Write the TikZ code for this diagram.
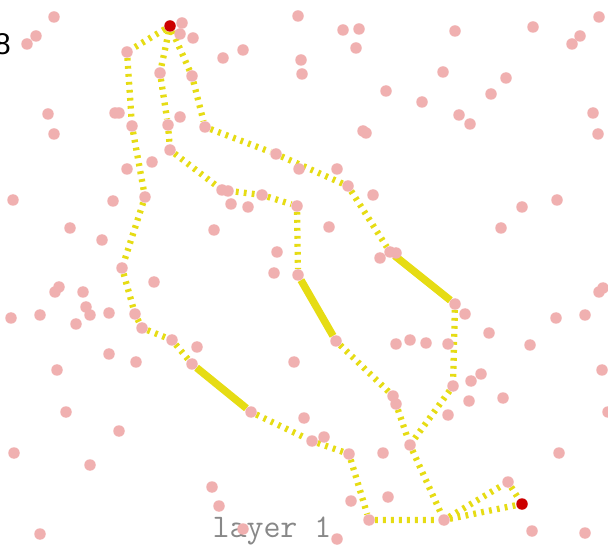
\documentclass[tikz,border=0pt]{standalone}
\usepackage{fontspec}
\newfontfamily\labelfont{Liberation Sans}
\usetikzlibrary{backgrounds}
\definecolor{trailyellow}{RGB}{230,220,20}
\definecolor{dotpink}{RGB}{240,176,176}
\definecolor{markred}{RGB}{204,0,0}
\definecolor{textgray}{RGB}{136,136,136}

\begin{document}
\begin{tikzpicture}[
            x=1pt, y=-1pt,
            dot/.style={circle, fill=dotpink, minimum size=11.5pt, inner sep=0pt},
            endpoint/.style={dot, fill=markred},
            trail/.style={draw=trailyellow, line width=6.3pt, dash pattern=on 2.8pt off 5.2pt},
            solidtrail/.style={draw=trailyellow, line width=7.5pt}
        ]
        \useasboundingbox (0,0) rectangle (608,545);

        % Labels
        \node[font=\labelfont\fontsize{30}{30}\selectfont, anchor=base east, inner sep=0pt] (tick_8) at (11,55) {8};
        \node[font=\ttfamily\fontsize{33}{33}\selectfont, text=textgray, anchor=base, inner sep=0pt] (layer_lbl) at (272,537) {layer 1};

        % Scattered dots
        \foreach \px/\py [count=\i] in {54/17, 36/36, 27/44, 182/23, 180/34, 193/38, 298/16, 343/30, 359/29, 356/48,
                243/50, 223/58, 301/60, 302/74, 386/91, 455/31, 533/27, 599/17, 580/36, 572/44,
                443/72, 506/78, 491/94, 422/102, 459/115, 470/124, 593/113, 598/134, 48/114, 54/134,
                115/113, 119/113, 180/117, 152/162, 127/169, 363/131, 366/133, 299/169, 337/169, 228/191,
                231/204, 248/207, 214/230, 329/227, 373/195, 13/200, 113/201, 70/228, 102/240, 154/282,
                59/287, 55/292, 83/292, 86/307, 90/315, 11/318, 40/315, 76/324, 109/313, 197/347,
                109/354, 136/362, 57/370, 277/252, 274/273, 380/258, 396/253, 557/200, 522/207, 501/228,
                599/292, 603/288, 465/314, 556/318, 585/315, 489/333, 530/345, 396/344, 410/340, 426/343,
                448/344, 294/362, 602/370, 471/381, 481/374, 469/401, 503/398, 448/415, 66/412, 119/431,
                14/453, 90/465, 304/418, 324/437, 383/453, 608/412, 559/453, 212/487, 219/506, 243/529,
                40/534, 351/501, 388/497, 337/539, 532/531, 585/533}
            \node[dot] (d\i) at (\px,\py) {};

        % Nodes on the routes
        \node[endpoint] (start) at (170,26) {};
        \node[endpoint] (goal) at (522,504) {};

        \node[dot] (left_1) at (127,52) {};
        \node[dot] (left_2) at (132,126) {};
        \node[dot] (left_3) at (145,197) {};
        \node[dot] (left_4) at (122,268) {};
        \node[dot] (left_5) at (135,314) {};
        \node[dot] (left_6) at (142,328) {};
        \node[dot] (left_7) at (172,340) {};
        \node[dot] (left_8) at (192,364) {};
        \node[dot] (left_9) at (251,412) {};
        \node[dot] (left_10) at (312,441) {};
        \node[dot] (left_11) at (349,454) {};
        \node[dot] (left_12) at (369,520) {};

        \node[dot] (mid_1) at (160,73) {};
        \node[dot] (mid_2) at (168,125) {};
        \node[dot] (mid_3) at (170,150) {};
        \node[dot] (mid_4) at (222,190) {};
        \node[dot] (mid_5) at (262,195) {};
        \node[dot] (mid_6) at (297,206) {};
        \node[dot] (mid_7) at (298,275) {};
        \node[dot] (mid_8) at (336,341) {};
        \node[dot] (mid_9) at (393,396) {};
        \node[dot] (mid_10) at (396,404) {};

        \node[dot] (right_1) at (192,76) {};
        \node[dot] (right_2) at (205,127) {};
        \node[dot] (right_3) at (276,154) {};
        \node[dot] (right_4) at (348,186) {};
        \node[dot] (right_5) at (390,252) {};
        \node[dot] (right_6) at (455,304) {};
        \node[dot] (right_7) at (453,386) {};

        \node[dot] (merge_mid) at (410,445) {};
        \node[dot] (merge_low) at (444,520) {};
        \node[dot] (last_hop) at (508,482) {};

        % === EDGES ===
        \begin{scope}[on background layer]
            % left route
            \draw[trail] (start) -- (left_1) -- (left_2) -- (left_3) -- (left_4) -- (left_5) -- (left_6) -- (left_7) -- (left_8);
            \draw[solidtrail] (left_8) -- (left_9);
            \draw[trail] (left_9) -- (left_10) -- (left_11) -- (left_12) -- (merge_low);

            % middle route
            \draw[trail] (start) -- (mid_1) -- (mid_2) -- (mid_3) -- (mid_4) -- (mid_5) -- (mid_6) -- (mid_7);
            \draw[solidtrail] (mid_7) -- (mid_8);
            \draw[trail] (mid_8) -- (mid_9) -- (mid_10) -- (merge_mid);

            % right route
            \draw[trail] (start) -- (right_1) -- (right_2) -- (right_3) -- (right_4) -- (right_5);
            \draw[solidtrail] (right_5) -- (right_6);
            \draw[trail] (right_6) -- (right_7) -- (merge_mid);

            % towards the goal
            \draw[trail] (merge_mid) -- (merge_low) -- (last_hop) -- (goal);
            \draw[trail] (merge_low) -- (goal);
        \end{scope}

    \end{tikzpicture}
\end{document}
